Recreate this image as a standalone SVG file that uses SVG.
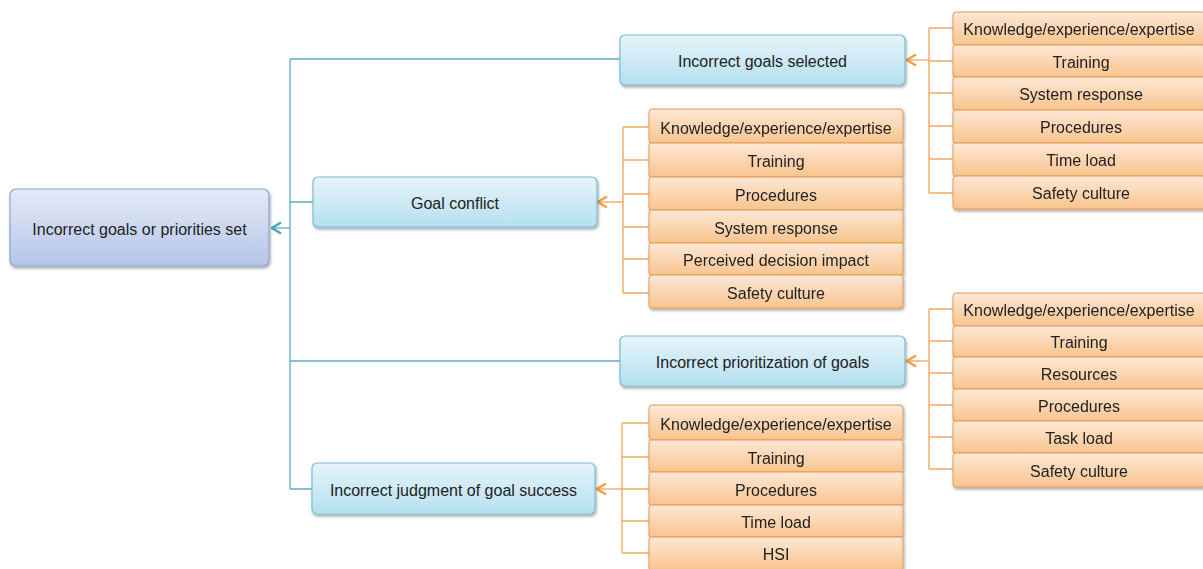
<svg xmlns="http://www.w3.org/2000/svg" width="1203" height="569" viewBox="0 0 1203 569">
<defs>
<linearGradient id="gRoot" x1="0" y1="0" x2="0" y2="1"><stop offset="0" stop-color="#e4ebf7"/><stop offset="1" stop-color="#b4c4e8"/></linearGradient>
<linearGradient id="gMid" x1="0" y1="0" x2="0" y2="1"><stop offset="0" stop-color="#e6f4f9"/><stop offset="1" stop-color="#b5e0f0"/></linearGradient>
<linearGradient id="gRow" x1="0" y1="0" x2="0" y2="1"><stop offset="0" stop-color="#fde8d6"/><stop offset="1" stop-color="#f8c48e"/></linearGradient>
<filter id="sh" x="-10%" y="-20%" width="120%" height="150%"><feDropShadow dx="1" dy="2" stdDeviation="1.5" flood-color="#000" flood-opacity="0.35"/></filter>
<marker id="aT" viewBox="0 0 12 14" refX="10.5" refY="7" markerWidth="12" markerHeight="14" markerUnits="userSpaceOnUse" orient="auto"><path d="M1.5,1.5 L10.5,7 L1.5,12.5" fill="none" stroke="#4fa7bd" stroke-width="2.6"/></marker>
<marker id="aO" viewBox="0 0 12 14" refX="10.5" refY="7" markerWidth="12" markerHeight="14" markerUnits="userSpaceOnUse" orient="auto"><path d="M1.5,1.5 L10.5,7 L1.5,12.5" fill="none" stroke="#f0a050" stroke-width="2.6"/></marker>
</defs>
<style>
text{font-family:"Liberation Sans",Arial,sans-serif;font-size:16px;fill:#222222;text-anchor:middle;dominant-baseline:central}
.root{fill:url(#gRoot);stroke:#8da3cf;stroke-width:1.2;filter:url(#sh)}
.mid{fill:url(#gMid);stroke:#7cbcd0;stroke-width:1.2;filter:url(#sh)}
.row{fill:url(#gRow);stroke:#e49a55;stroke-width:1}
.list{filter:url(#sh)}
.ct{fill:none;stroke:#5fadc2;stroke-width:1.3}
.co{fill:none;stroke:#f2aa62;stroke-width:1.4}
</style>
<rect width="1203" height="569" fill="#ffffff"/>

<g id="connectors">
<path class="ct" d="M290,59 V489 M290,59 H620 M290,202 H313 M290,361 H620 M290,489 H312"/>
<path class="ct" d="M290,228 H272" marker-end="url(#aT)"/>
<path class="co" d="M929,28 V193 M929,28 H953 M929,61 H953 M929,93 H953 M929,126 H953 M929,159 H953 M929,193 H953"/>
<path class="co" d="M929,60 H907" marker-end="url(#aO)"/>
<path class="co" d="M623,127 V293 M623,127 H649 M623,160 H649 M623,194 H649 M623,227 H649 M623,259 H649 M623,293 H649"/>
<path class="co" d="M623,202 H598" marker-end="url(#aO)"/>
<path class="co" d="M929,309 V469 M929,309 H953 M929,341 H953 M929,373 H953 M929,405 H953 M929,437 H953 M929,469 H953"/>
<path class="co" d="M929,361 H907" marker-end="url(#aO)"/>
<path class="co" d="M622,423 V553 M622,423 H649 M622,457 H649 M622,489 H649 M622,521 H649 M622,553 H649"/>
<path class="co" d="M622,489 H597" marker-end="url(#aO)"/>
</g>

<g id="root"><rect class="root" x="10" y="189" width="259" height="77" rx="6"/><text x="139.5" y="229">Incorrect goals or priorities set</text></g>

<g id="n-selected"><rect class="mid" x="620" y="35" width="285" height="50" rx="5"/><text x="762.5" y="61">Incorrect goals selected</text></g>
<g id="n-conflict"><rect class="mid" x="313" y="177" width="284" height="50" rx="5"/><text x="455" y="203">Goal conflict</text></g>
<g id="n-prior"><rect class="mid" x="620" y="336" width="285" height="50" rx="5"/><text x="762.5" y="362">Incorrect prioritization of goals</text></g>
<g id="n-judg"><rect class="mid" x="312" y="463" width="283" height="51" rx="5"/><text x="453.5" y="490">Incorrect judgment of goal success</text></g>

<g id="list-selected" class="list">
<rect class="row" x="953" y="12" width="252" height="33" rx="3"/><text x="1079" y="29">Knowledge/experience/expertise</text>
<rect class="row" x="953" y="45" width="252" height="32" rx="2"/><text x="1081" y="62">Training</text>
<rect class="row" x="953" y="77" width="252" height="33" rx="2"/><text x="1081" y="94">System response</text>
<rect class="row" x="953" y="110" width="252" height="33" rx="2"/><text x="1081" y="127">Procedures</text>
<rect class="row" x="953" y="143" width="252" height="33" rx="2"/><text x="1081" y="160">Time load</text>
<rect class="row" x="953" y="176" width="252" height="33" rx="3"/><text x="1081" y="193">Safety culture</text>
</g>

<g id="list-conflict" class="list">
<rect class="row" x="649" y="109" width="254" height="34" rx="3"/><text x="776" y="128">Knowledge/experience/expertise</text>
<rect class="row" x="649" y="143" width="254" height="34" rx="2"/><text x="776" y="161">Training</text>
<rect class="row" x="649" y="177" width="254" height="33" rx="2"/><text x="776" y="195">Procedures</text>
<rect class="row" x="649" y="210" width="254" height="33" rx="2"/><text x="776" y="228">System response</text>
<rect class="row" x="649" y="243" width="254" height="32" rx="2"/><text x="776" y="260">Perceived decision impact</text>
<rect class="row" x="649" y="275" width="254" height="33" rx="3"/><text x="776" y="293">Safety culture</text>
</g>

<g id="list-prior" class="list">
<rect class="row" x="953" y="293" width="252" height="33" rx="3"/><text x="1079" y="310">Knowledge/experience/expertise</text>
<rect class="row" x="953" y="326" width="252" height="31" rx="2"/><text x="1079" y="342">Training</text>
<rect class="row" x="953" y="357" width="252" height="32" rx="2"/><text x="1079" y="374">Resources</text>
<rect class="row" x="953" y="389" width="252" height="32" rx="2"/><text x="1079" y="406">Procedures</text>
<rect class="row" x="953" y="421" width="252" height="32" rx="2"/><text x="1079" y="438">Task load</text>
<rect class="row" x="953" y="453" width="252" height="34" rx="3"/><text x="1079" y="471">Safety culture</text>
</g>

<g id="list-judg" class="list">
<rect class="row" x="649" y="405" width="254" height="35" rx="3"/><text x="776" y="424">Knowledge/experience/expertise</text>
<rect class="row" x="649" y="440" width="254" height="32" rx="2"/><text x="776" y="458">Training</text>
<rect class="row" x="649" y="472" width="254" height="33" rx="2"/><text x="776" y="490">Procedures</text>
<rect class="row" x="649" y="505" width="254" height="32" rx="2"/><text x="776" y="522">Time load</text>
<rect class="row" x="649" y="537" width="254" height="33" rx="2"/><text x="776" y="554">HSI</text>
</g>
</svg>
